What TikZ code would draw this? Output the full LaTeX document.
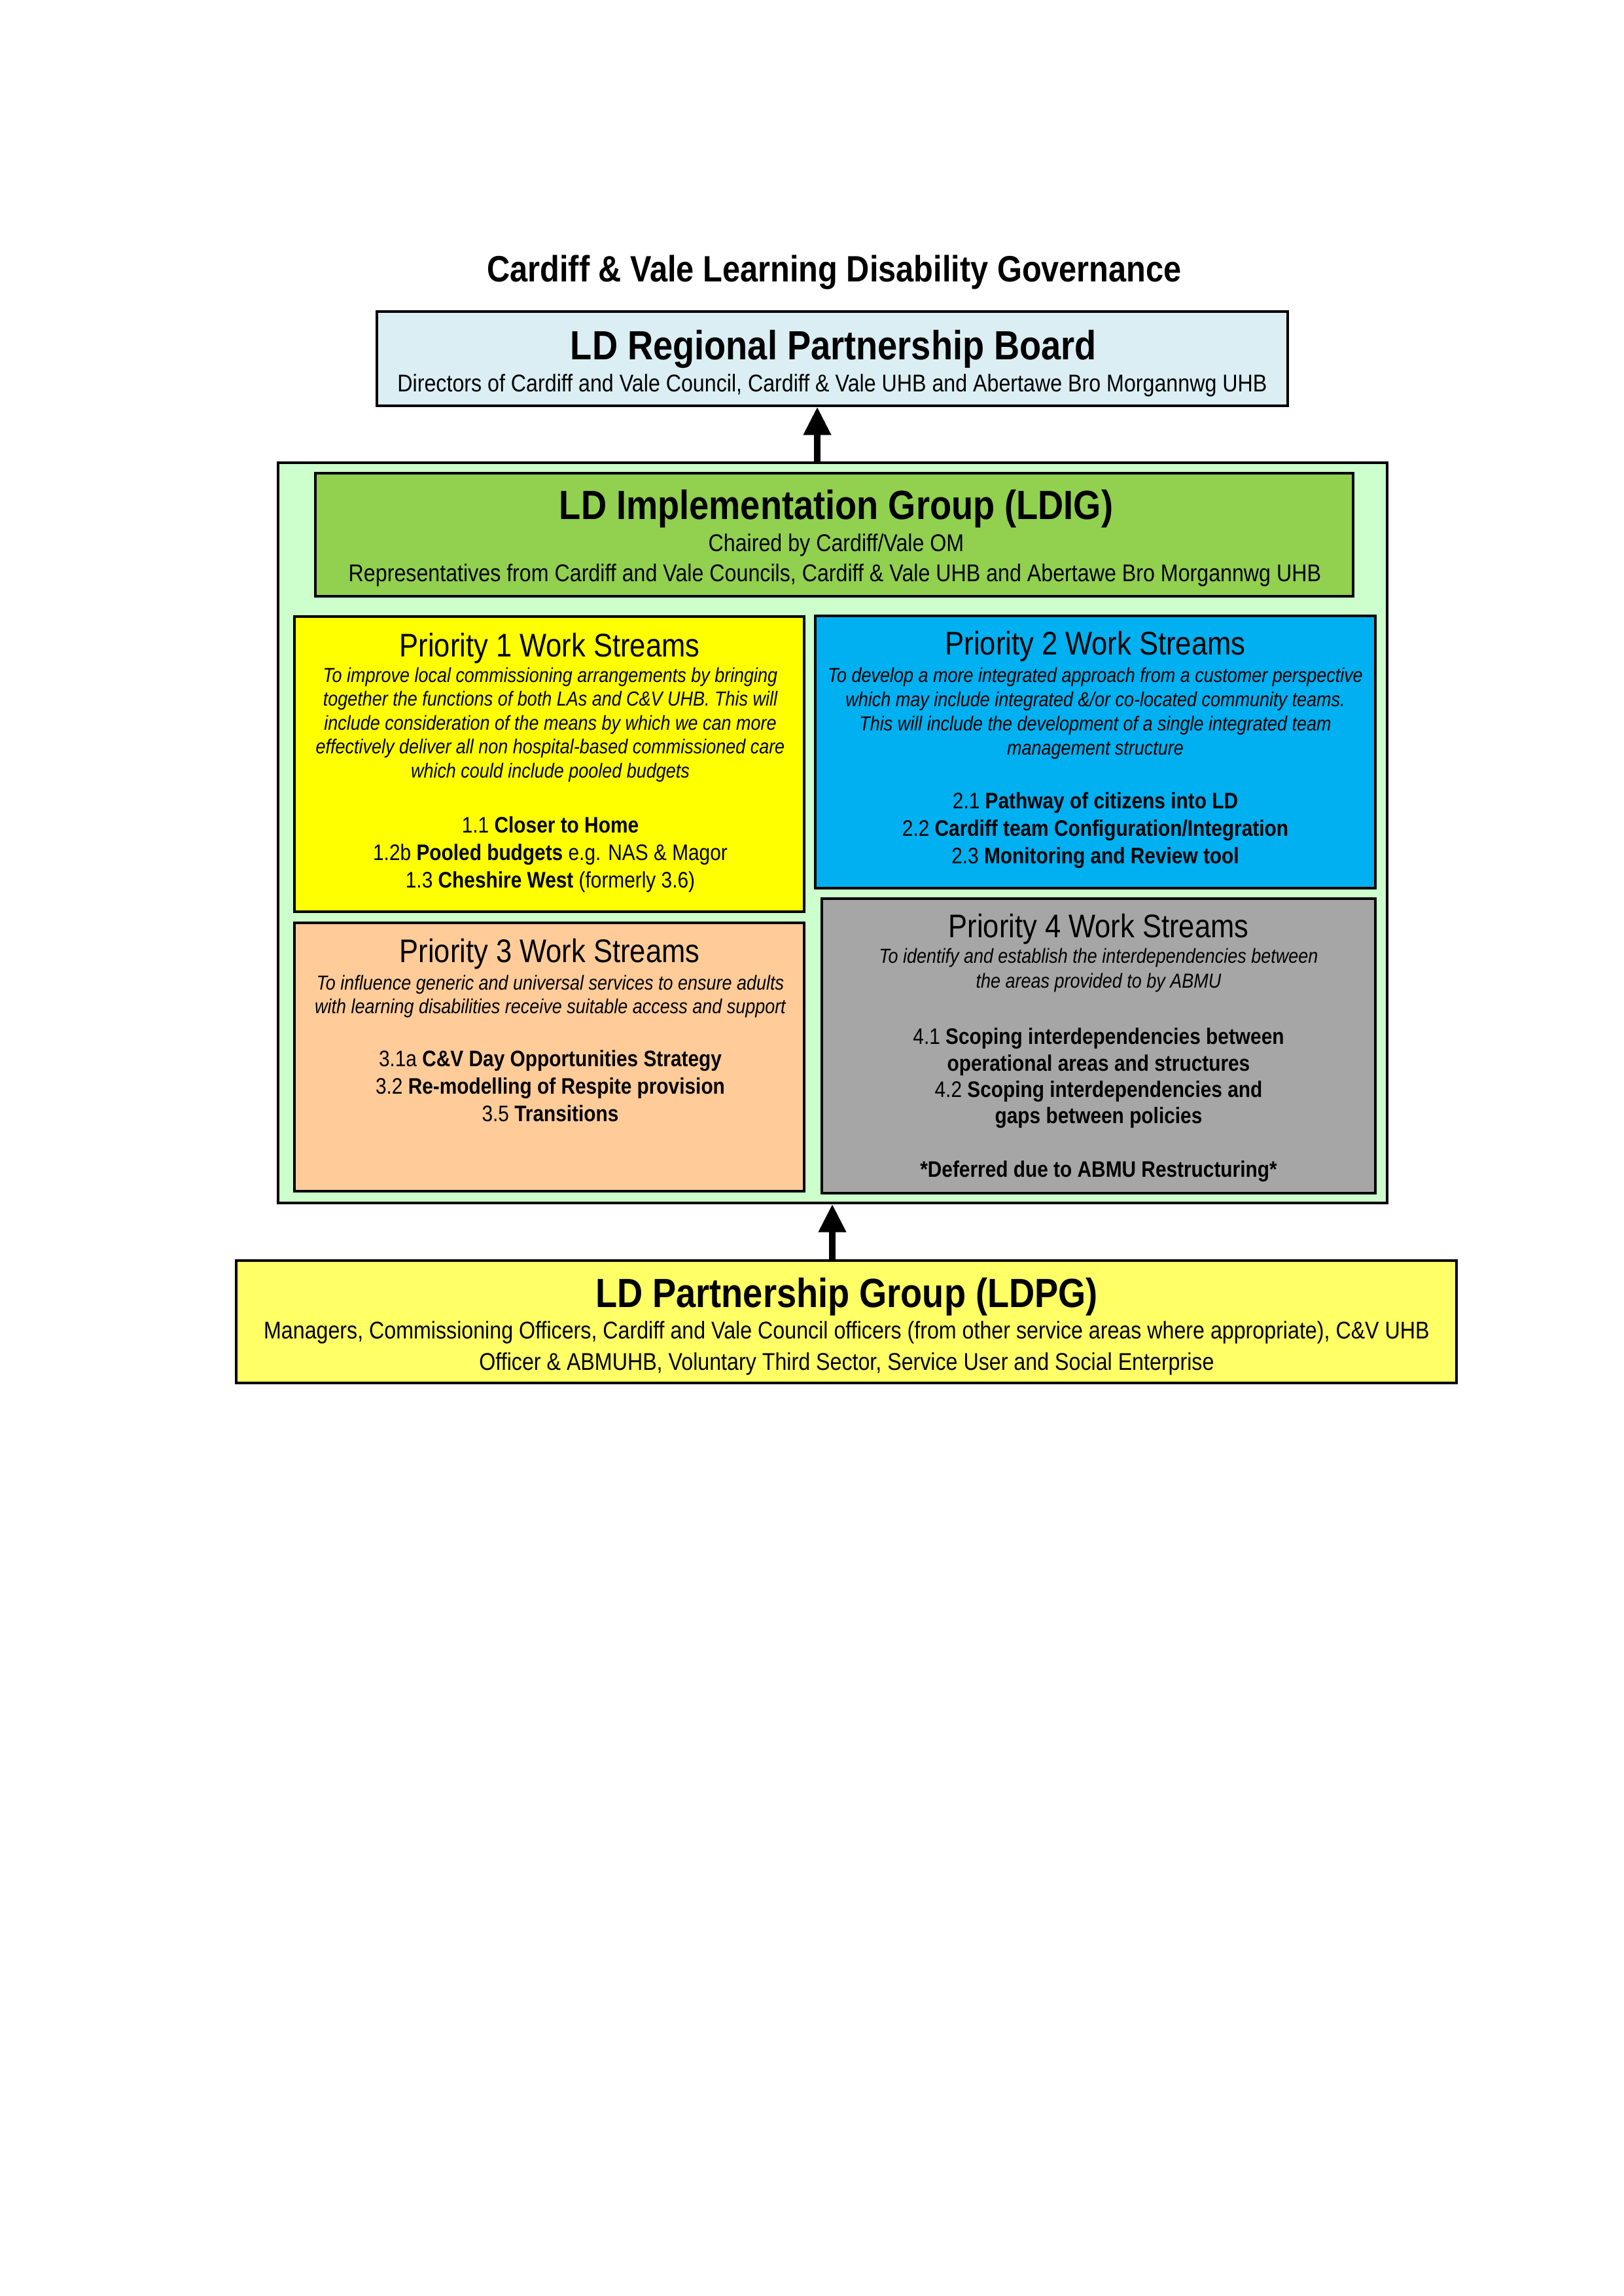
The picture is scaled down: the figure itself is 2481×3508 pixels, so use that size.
\documentclass[tikz,border=0pt]{standalone}
\usepackage{fontspec}
\setmainfont[FakeStretch=0.87]{Liberation Sans}
\usetikzlibrary{arrows.meta,fit}
\definecolor{boardc}{HTML}{DAEEF3}
\definecolor{outerc}{HTML}{CCFFCC}
\definecolor{ldigc}{HTML}{92D050}
\definecolor{p1c}{HTML}{FFFF00}
\definecolor{p2c}{HTML}{00B0F0}
\definecolor{p3c}{HTML}{FFCC99}
\definecolor{p4c}{HTML}{A6A6A6}
\definecolor{ldpgc}{HTML}{FFFF66}
\begin{document}
\begin{tikzpicture}[x=0.23994pt,y=-0.23994pt,
 box/.style={draw=black, line width=0.8pt, inner sep=0pt, rectangle},
 txt/.style={inner sep=0pt, anchor=base},
 ttl/.style={txt, font=\fontsize{13.44}{16}\selectfont\bfseries},
 hd/.style={txt, font=\fontsize{14.95}{17}\selectfont\bfseries},
 subt/.style={txt, font=\fontsize{8.88}{10}\selectfont},
 prio/.style={txt, font=\fontsize{12}{14}\selectfont},
 itx/.style={txt, font=\fontsize{7.44}{9}\selectfont\itshape},
 itm/.style={txt, font=\fontsize{8.23}{10}\selectfont},
 arr/.style={line width=2.4pt, -{Triangle[length=10.3pt,width=9.6pt]}}]
\useasboundingbox (0,0) rectangle (2481,3508);
\fill[white] (0,0) rectangle (2481,3508);

% boxes
\node[box, fill=boardc, fit={(576,476) (1968,620)}] (board) {};
\node[box, fill=outerc, fit={(425,707) (2120,1838)}] (outer) {};
\node[box, fill=ldigc, fit={(482,723) (2068,911)}] (ldig) {};
\node[box, fill=p1c, fit={(450,942) (1229,1393)}] (p1) {};
\node[box, fill=p2c, fit={(1246,941) (2102,1357)}] (p2) {};
\node[box, fill=p3c, fit={(450,1410) (1229,1820)}] (p3) {};
\node[box, fill=p4c, fit={(1256,1373) (2102,1823)}] (p4) {};
\node[box, fill=ldpgc, fit={(361,1926) (2226,2113)}] (ldpg) {};

% arrows
\coordinate (ax1) at (1249,0);
\coordinate (ax2) at (1272,0);
\draw[arr] (ax1 |- outer.north) -- (ax1 |- board.south);
\draw[arr] (ax2 |- ldpg.north) -- (ax2 |- outer.south);

% title
\node[ttl] (title) at (1275,430) {Cardiff \& Vale Learning Disability Governance};

% board
\node[hd] (boardt) at (1274,549) {LD Regional Partnership Board};
\node[subt] (boards) at (1272,598) {Directors of Cardiff and Vale Council, Cardiff \& Vale UHB and Abertawe Bro Morgannwg UHB};

% LDIG
\node[hd] (ldigt) at (1278,793) {LD Implementation Group (LDIG)};
\node[subt] (ldigs1) at (1278,842) {Chaired by Cardiff/Vale OM};
\node[subt] (ldigs2) at (1276,888) {Representatives from Cardiff and Vale Councils, Cardiff \& Vale UHB and Abertawe Bro Morgannwg UHB};

% Priority 1
\node[prio] (p1t) at (840,1003) {Priority 1 Work Streams};
\node[itx] (p1i1) at (841,1042) {To improve local commissioning arrangements by bringing};
\node[itx] (p1i2) at (841,1078.5) {together the functions of both LAs and C\&V UHB. This will};
\node[itx] (p1i3) at (841,1115) {include consideration of the means by which we can more};
\node[itx] (p1i4) at (841,1151.5) {effectively deliver all non hospital-based commissioned care};
\node[itx] (p1i5) at (841,1188) {which could include pooled budgets};
\node[itm] (p1a) at (841,1272) {1.1 \textbf{Closer to Home}};
\node[itm] (p1b) at (841,1314) {1.2b \textbf{Pooled budgets} e.g. NAS \& Magor};
\node[itm] (p1c) at (841,1356) {1.3 \textbf{Cheshire West} (formerly 3.6)};

% Priority 2
\node[prio] (p2t) at (1674,1000) {Priority 2 Work Streams};
\node[itx] (p2i1) at (1674,1042) {To develop a more integrated approach from a customer perspective};
\node[itx] (p2i2) at (1674,1079) {which may include integrated \&/or co-located community teams.};
\node[itx] (p2i3) at (1674,1116) {This will include the development of a single integrated team};
\node[itx] (p2i4) at (1674,1153) {management structure};
\node[itm] (p2a) at (1674,1235) {2.1 \textbf{Pathway of citizens into LD}};
\node[itm] (p2b) at (1674,1277) {2.2 \textbf{Cardiff team Configuration/Integration}};
\node[itm] (p2c) at (1674,1319) {2.3 \textbf{Monitoring and Review tool}};

% Priority 3
\node[prio] (p3t) at (840,1470) {Priority 3 Work Streams};
\node[itx] (p3i1) at (841,1512) {To influence generic and universal services to ensure adults};
\node[itx] (p3i2) at (841,1548) {with learning disabilities receive suitable access and support};
\node[itm] (p3a) at (841,1629) {3.1a \textbf{C\&V Day Opportunities Strategy}};
\node[itm] (p3b) at (841,1671) {3.2 \textbf{Re-modelling of Respite provision}};
\node[itm] (p3c) at (841,1713) {3.5 \textbf{Transitions}};

% Priority 4
\node[prio] (p4t) at (1679,1432) {Priority 4 Work Streams};
\node[itx] (p4i1) at (1679,1471) {To identify and establish the interdependencies between};
\node[itx] (p4i2) at (1679,1509) {the areas provided to by ABMU};
\node[itm] (p4a) at (1679,1595) {4.1 \textbf{Scoping interdependencies between}};
\node[itm] (p4b) at (1679,1636) {\textbf{operational areas and structures}};
\node[itm] (p4c) at (1679,1676) {4.2 \textbf{Scoping interdependencies and}};
\node[itm] (p4d) at (1679,1716) {\textbf{gaps between policies}};
\node[itm] (p4e) at (1679,1798) {\textbf{*Deferred due to ABMU Restructuring*}};

% LDPG
\node[hd] (ldpgt) at (1294,1997) {LD Partnership Group (LDPG)};
\node[subt] (ldpgs1) at (1294,2045) {Managers, Commissioning Officers, Cardiff and Vale Council officers (from other service areas where appropriate), C\&V UHB};
\node[subt] (ldpgs2) at (1294,2093) {Officer \& ABMUHB, Voluntary Third Sector, Service User and Social Enterprise};
\end{tikzpicture}
\end{document}
